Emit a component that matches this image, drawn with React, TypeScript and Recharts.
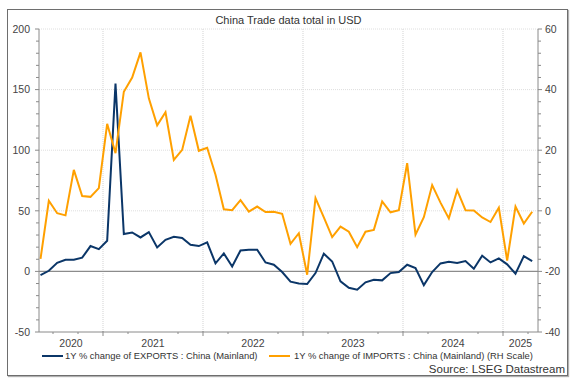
import { LineChart, Line, XAxis, YAxis, ReferenceLine } from 'recharts';

// Monthly observations, May 2020 to Apr 2025
const MONTHS = [
  '2020-05', '2020-06', '2020-07', '2020-08', '2020-09', '2020-10', '2020-11', '2020-12',
  '2021-01', '2021-02', '2021-03', '2021-04', '2021-05', '2021-06', '2021-07', '2021-08', '2021-09', '2021-10', '2021-11', '2021-12',
  '2022-01', '2022-02', '2022-03', '2022-04', '2022-05', '2022-06', '2022-07', '2022-08', '2022-09', '2022-10', '2022-11', '2022-12',
  '2023-01', '2023-02', '2023-03', '2023-04', '2023-05', '2023-06', '2023-07', '2023-08', '2023-09', '2023-10', '2023-11', '2023-12',
  '2024-01', '2024-02', '2024-03', '2024-04', '2024-05', '2024-06', '2024-07', '2024-08', '2024-09', '2024-10', '2024-11', '2024-12',
  '2025-01', '2025-02', '2025-03', '2025-04',
];

// 1Y % change of exports (left scale)
const EXPORTS = [
  -3, 0.5, 7.1, 9.6, 9.6, 11.3, 20.9, 18.4,
  25.3, 155, 30.8, 32.1, 28, 32.4, 19.8, 26.1, 28.6, 27.5, 22, 20.9,
  24, 6.6, 14.8, 4.1, 17.3, 17.9, 17.9, 7.4, 5.5, -0.5, -8.5, -9.9,
  -10.4, -1.4, 14.6, 8.2, -8.2, -13.5, -15.1, -9, -6.9, -7.4, -1.4, -0.5,
  5.5, 2.7, -11.3, -0.5, 6.6, 8, 6.9, 8.5, 2.2, 12.9, 7.4, 10.7,
  5.8, -1.9, 12.6, 8.5,
];

// 1Y % change of imports (right scale)
const IMPORTS = [
  -15.9, 3.3, -0.8, -1.5, 13.5, 4.9, 4.6, 7.5,
  28.7, 19, 39.3, 44, 52.3, 37.1, 28.2, 32.5, 16.8, 20.1, 31.4, 19.8,
  20.8, 11.9, 0.5, 0.2, 3.5, -0.3, 1.4, -0.4, -0.3, -1, -10.9, -7.4,
  -21.1, 4.2, -2.2, -8.7, -5.2, -6.9, -12, -6.9, -6.3, 3.1, -0.5, 0.2,
  15.7, -7.9, -2.1, 8.5, 2.7, -2.5, 6.8, 0.2, 0.1, -2.2, -3.7, 1,
  -16.4, 1.4, -4.2, -0.3,
];

const YEARS = [2020, 2021, 2022, 2023, 2024, 2025];
const LEFT_TICKS = [-50, -40, -30, -20, -10, 0, 10, 20, 30, 40, 50, 60, 70, 80, 90, 100, 110, 120, 130, 140, 150, 160, 170, 180, 190, 200];
const RIGHT_TICKS = [-40, -36, -32, -28, -24, -20, -16, -12, -8, -4, 0, 4, 8, 12, 16, 20, 24, 28, 32, 36, 40, 44, 48, 52, 56, 60];
const LEFT_MAJOR = [-50, 0, 50, 100, 150, 200];
const RIGHT_MAJOR = [-40, -20, 0, 20, 40, 60];

const X_DOMAIN: [number, number] = [2020.36, 2025.35];
const BLUE = '#0b3668';
const ORANGE = '#ffa000';
const AXIS = '#8a8a8a';
const GRID = '#dedede';
const FONT = '"Liberation Sans", Arial, sans-serif';

// mid-month position as a decimal year
const toYear = (m: string) => {
  const [y, mo] = m.split('-').map(Number);
  return y + (mo - 0.5) / 12;
};

const data = MONTHS.map((m, i) => ({ t: toYear(m), exp: EXPORTS[i], imp: IMPORTS[i] }));

// year labels sit in the middle of the visible part of each year
const yearLabels = YEARS.map((y) => ({
  pos: (Math.max(y, X_DOMAIN[0]) + Math.min(y + 1, X_DOMAIN[1])) / 2,
  text: String(y),
}));

const quarterTicks: number[] = [];
for (let q = Math.ceil(X_DOMAIN[0] * 4); q <= Math.floor(X_DOMAIN[1] * 4); q++) {
  const v = q / 4;
  if (!yearLabels.some((l) => Math.abs(l.pos - v) < 0.01)) quarterTicks.push(v);
}
const xTicks = [...quarterTicks, ...yearLabels.map((l) => l.pos)].sort((a, b) => a - b);

function XTick({ x, y, payload }: any) {
  const v = payload.value;
  const label = yearLabels.find((l) => Math.abs(l.pos - v) < 1e-6);
  if (label) {
    return (
      <text x={x} y={y + 15} textAnchor="middle" fontSize={10.5} fill="#444" fontFamily={FONT}>
        {label.text}
      </text>
    );
  }
  const isYear = Math.abs(v - Math.round(v)) < 1e-6;
  return <line x1={x} x2={x} y1={y - (isYear ? 1 : 0)} y2={y + (isYear ? 4 : 2)} stroke={AXIS} />;
}

function LeftTick({ x, y, payload }: any) {
  const major = LEFT_MAJOR.includes(payload.value);
  return (
    <g>
      <line x1={x - (major ? 4 : 3)} x2={x} y1={y} y2={y} stroke={AXIS} />
      {major && (
        <text x={x - 9} y={y + 3.8} textAnchor="end" fontSize={10.5} fill="#444" fontFamily={FONT}>
          {payload.value}
        </text>
      )}
    </g>
  );
}

function RightTick({ x, y, payload }: any) {
  const major = RIGHT_MAJOR.includes(payload.value);
  return (
    <g>
      <line x1={x} x2={x + (major ? 4 : 3)} y1={y} y2={y} stroke={AXIS} />
      {major && (
        <text x={x + 7} y={y + 3.8} textAnchor="start" fontSize={10.5} fill="#444" fontFamily={FONT}>
          {payload.value}
        </text>
      )}
    </g>
  );
}

export default function App() {
  return (
    <div style={{ position: 'absolute', left: 0, top: 0, width: 573, height: 384, background: '#fff', fontFamily: FONT }}>
      <LineChart width={573} height={384} data={data} margin={{ top: 29, right: 0, bottom: 0, left: 0 }}>
        <XAxis
          dataKey="t"
          type="number"
          domain={X_DOMAIN}
          ticks={xTicks}
          interval={0}
          tick={<XTick />}
          tickLine={false}
          tickSize={0}
          tickMargin={0}
          height={52}
          axisLine={{ stroke: AXIS }}
          allowDataOverflow
        />
        <YAxis
          yAxisId="left"
          orientation="left"
          domain={[-50, 200]}
          ticks={LEFT_TICKS}
          interval={0}
          tick={<LeftTick />}
          tickLine={false}
          tickSize={0}
          tickMargin={0}
          width={39}
          axisLine={{ stroke: AXIS }}
        />
        <YAxis
          yAxisId="right"
          orientation="right"
          domain={[-40, 60]}
          ticks={RIGHT_TICKS}
          interval={0}
          tick={<RightTick />}
          tickLine={false}
          tickSize={0}
          tickMargin={0}
          width={35}
          axisLine={{ stroke: AXIS }}
        />
        {[50, 100, 150, 200].map((v) => (
          <ReferenceLine key={`h${v}`} yAxisId="left" y={v} stroke={GRID} strokeDasharray="1 1" />
        ))}
        {[2021, 2022, 2023, 2024, 2025].map((v) => (
          <ReferenceLine key={`v${v}`} yAxisId="left" x={v} stroke={GRID} strokeWidth={1.3} strokeDasharray="1 1" />
        ))}
        <ReferenceLine yAxisId="left" y={0} stroke="#8c8c8c" strokeWidth={1.2} />
        <Line
          yAxisId="left"
          dataKey="exp"
          stroke={BLUE}
          strokeWidth={2}
          dot={false}
          isAnimationActive={false}
        />
        <Line
          yAxisId="right"
          dataKey="imp"
          stroke={ORANGE}
          strokeWidth={2}
          dot={false}
          isAnimationActive={false}
        />
      </LineChart>

      {/* frame */}
      <div
        style={{
          position: 'absolute',
          left: 7,
          top: 9,
          width: 559,
          height: 365,
          border: '1px solid #6e6e6e',
          boxShadow: '1px 1px 1px #b0b0b0',
          pointerEvents: 'none',
        }}
      />

      <div style={{ position: 'absolute', left: 39, width: 499, top: 13, textAlign: 'center', fontSize: 11, color: '#333', lineHeight: '14px' }}>
        China Trade data total in USD
      </div>

      {/* legend */}
      <div style={{ position: 'absolute', left: 42, top: 355, width: 21, height: 2, background: BLUE }} />
      <div style={{ position: 'absolute', left: 65, top: 350, fontSize: 9.4, color: '#333', lineHeight: '12px', whiteSpace: 'nowrap' }}>
        1Y % change of EXPORTS : China (Mainland)
      </div>
      <div style={{ position: 'absolute', left: 269, top: 355, width: 21, height: 2, background: ORANGE }} />
      <div style={{ position: 'absolute', left: 294, top: 350, fontSize: 9.4, color: '#333', lineHeight: '12px', whiteSpace: 'nowrap' }}>
        1Y % change of IMPORTS : China (Mainland) (RH Scale)
      </div>

      <div style={{ position: 'absolute', right: 8, top: 362, fontSize: 11.5, color: '#333', lineHeight: '14px', whiteSpace: 'nowrap' }}>
        Source: LSEG Datastream
      </div>
    </div>
  );
}
